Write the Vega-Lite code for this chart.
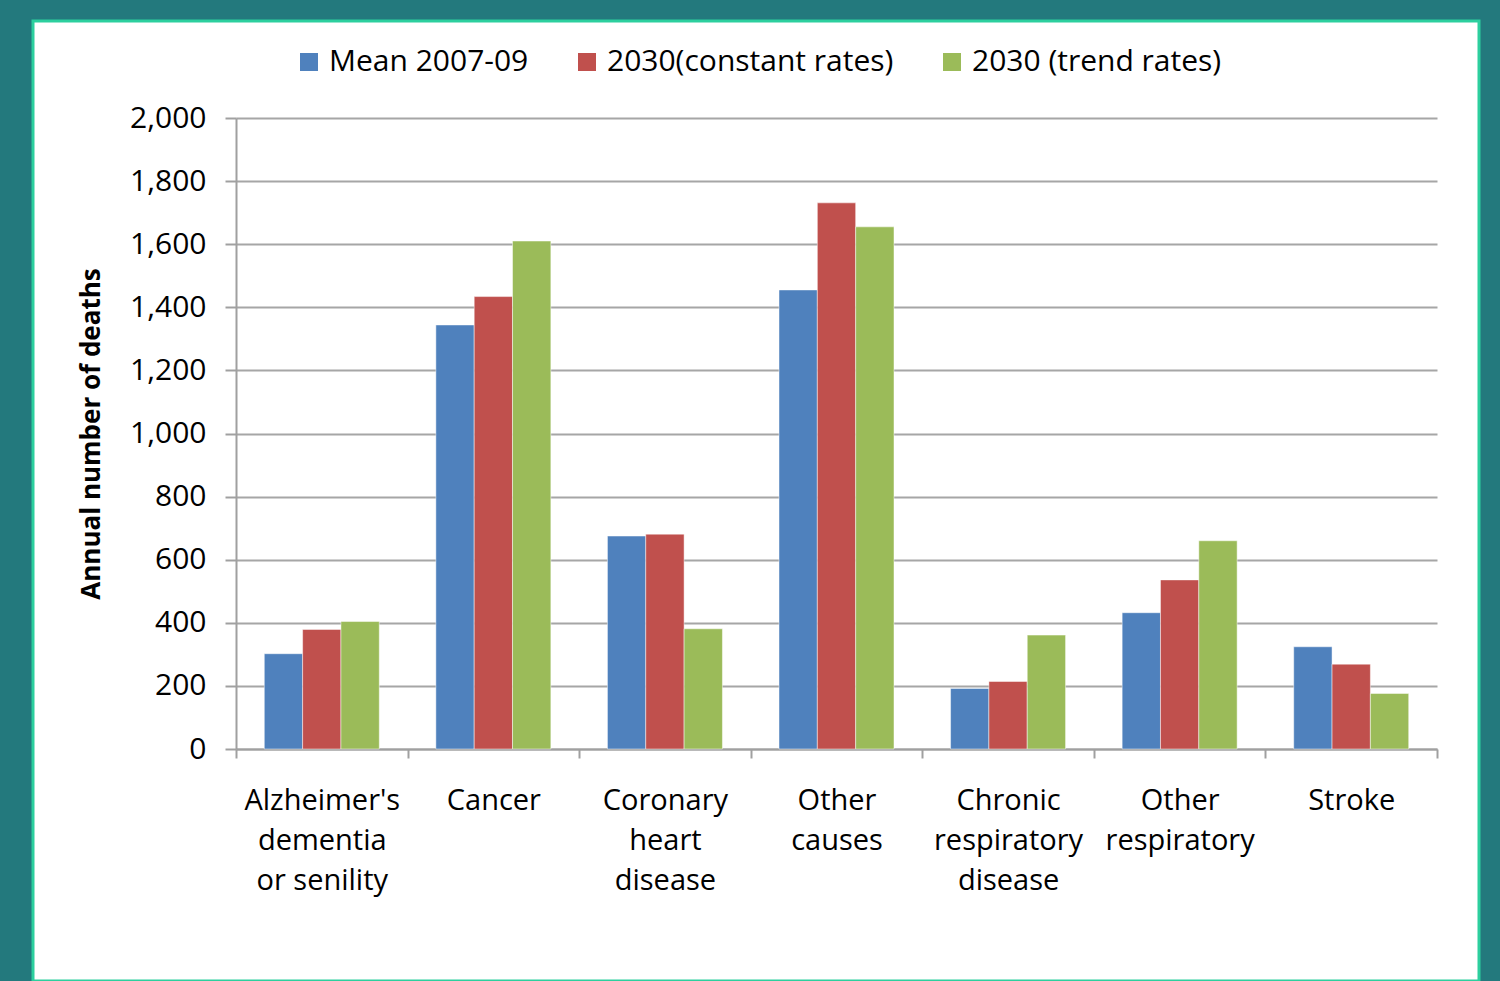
{
  "$schema": "https://vega.github.io/schema/vega-lite/v6.json",
  "width": 1446,
  "height": 960,
  "autosize": {"type": "none"},
  "padding": {"left": 33, "top": 21, "right": 21, "bottom": 0},
  "background": "#23797d",
  "config": {
    "view": {"fill": "#ffffff", "stroke": "#2ccf9e", "strokeWidth": 3},
    "font": "Open Sans",
    "axis": {"labelFont": "Open Sans", "labelColor": "#000000", "titleColor": "#000000"}
  },
  "data": {
    "values": [
      {"cause": "Alzheimer's dementia or senility", "series": "Mean 2007-09", "deaths": 302},
      {"cause": "Alzheimer's dementia or senility", "series": "2030(constant rates)", "deaths": 379},
      {"cause": "Alzheimer's dementia or senility", "series": "2030 (trend rates)", "deaths": 404},
      {"cause": "Cancer", "series": "Mean 2007-09", "deaths": 1344},
      {"cause": "Cancer", "series": "2030(constant rates)", "deaths": 1434},
      {"cause": "Cancer", "series": "2030 (trend rates)", "deaths": 1610},
      {"cause": "Coronary heart disease", "series": "Mean 2007-09", "deaths": 675},
      {"cause": "Coronary heart disease", "series": "2030(constant rates)", "deaths": 681},
      {"cause": "Coronary heart disease", "series": "2030 (trend rates)", "deaths": 381},
      {"cause": "Other causes", "series": "Mean 2007-09", "deaths": 1455},
      {"cause": "Other causes", "series": "2030(constant rates)", "deaths": 1731},
      {"cause": "Other causes", "series": "2030 (trend rates)", "deaths": 1655},
      {"cause": "Chronic respiratory disease", "series": "Mean 2007-09", "deaths": 192},
      {"cause": "Chronic respiratory disease", "series": "2030(constant rates)", "deaths": 214},
      {"cause": "Chronic respiratory disease", "series": "2030 (trend rates)", "deaths": 361},
      {"cause": "Other respiratory", "series": "Mean 2007-09", "deaths": 432},
      {"cause": "Other respiratory", "series": "2030(constant rates)", "deaths": 536},
      {"cause": "Other respiratory", "series": "2030 (trend rates)", "deaths": 660},
      {"cause": "Stroke", "series": "Mean 2007-09", "deaths": 324},
      {"cause": "Stroke", "series": "2030(constant rates)", "deaths": 269},
      {"cause": "Stroke", "series": "2030 (trend rates)", "deaths": 176}
    ]
  },
  "mark": {"type": "bar", "stroke": "#ffffff", "strokeWidth": 0.8, "strokeOpacity": 0.6},
  "encoding": {
    "x": {
      "field": "cause",
      "type": "nominal",
      "sort": null,
      "scale": {"range": [203, 1404], "paddingInner": 0, "paddingOuter": 0},
      "axis": {
        "title": null,
        "orient": "bottom",
        "offset": -232,
        "labelAngle": 0,
        "labelFontSize": 29,
        "labelLineHeight": 40,
        "labelPadding": 28,
        "labelOverlap": false,
        "labelLimit": 300,
        "labelExpr": "datum.label == \"Alzheimer's dementia or senility\" ? [\"Alzheimer's\", 'dementia', 'or senility'] : datum.label == 'Coronary heart disease' ? ['Coronary', 'heart', 'disease'] : datum.label == 'Chronic respiratory disease' ? ['Chronic', 'respiratory', 'disease'] : split(datum.label, ' ')",
        "tickBand": "extent",
        "tickSize": 9,
        "tickColor": "#a0a0a0",
        "tickWidth": 2,
        "domainColor": "#a0a0a0",
        "domainWidth": 2,
        "grid": false
      }
    },
    "xOffset": {
      "field": "series",
      "type": "nominal",
      "sort": ["Mean 2007-09", "2030(constant rates)", "2030 (trend rates)"],
      "scale": {"paddingInner": 0, "paddingOuter": 0.738}
    },
    "y": {
      "field": "deaths",
      "type": "quantitative",
      "scale": {"domain": [0, 2000], "range": [728, 97], "nice": false},
      "axis": {
        "title": "Annual number of deaths",
        "titleFontSize": 26,
        "titleFontWeight": "bold",
        "titleFont": "Open Sans",
        "titlePadding": 25,
        "orient": "left",
        "offset": -203,
        "values": [0, 200, 400, 600, 800, 1000, 1200, 1400, 1600, 1800, 2000],
        "format": ",d",
        "labelFontSize": 30,
        "labelPadding": 19,
        "tickSize": 11,
        "tickColor": "#a0a0a0",
        "tickWidth": 2,
        "domainColor": "#a0a0a0",
        "domainWidth": 2,
        "grid": true,
        "gridColor": "#a6a6a6",
        "gridWidth": 2
      }
    },
    "color": {
      "field": "series",
      "type": "nominal",
      "sort": ["Mean 2007-09", "2030(constant rates)", "2030 (trend rates)"],
      "scale": {
        "domain": ["Mean 2007-09", "2030(constant rates)", "2030 (trend rates)"],
        "range": ["#4f81bd", "#c0504d", "#9bbb59"]
      },
      "legend": {
        "title": null,
        "orient": "none",
        "legendX": 261,
        "legendY": 26,
        "direction": "horizontal",
        "symbolType": "square",
        "symbolSize": 324,
        "symbolStrokeWidth": 0,
        "labelFontSize": 30,
        "labelFont": "Open Sans",
        "labelColor": "#000000",
        "labelOffset": 5,
        "columnPadding": 43,
        "labelLimit": 400
      }
    }
  }
}
